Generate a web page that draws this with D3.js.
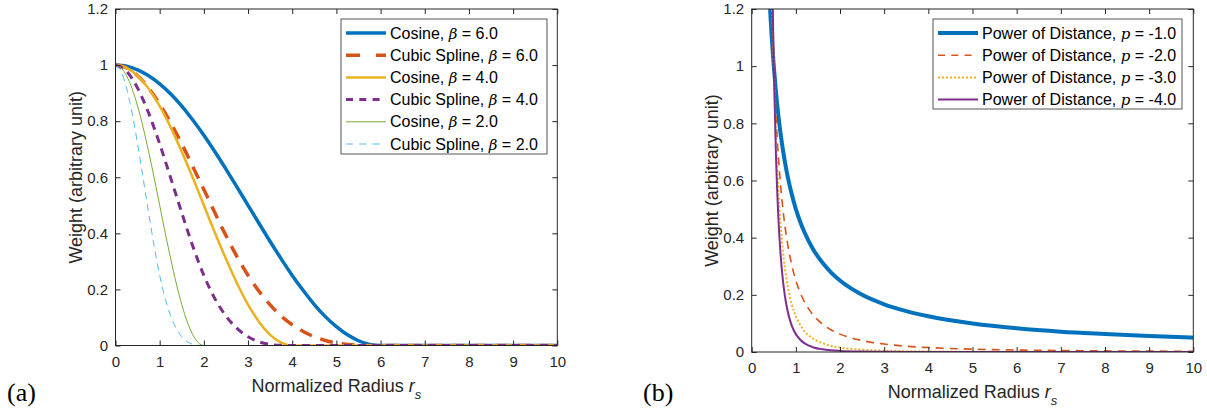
<!DOCTYPE html>
<html><head><meta charset="utf-8">
<script src="https://cdn.jsdelivr.net/npm/d3@7"></script>
<style>
body{margin:0;background:#fff;}
svg{display:block;font-family:"Liberation Sans",Arial,sans-serif;}
</style></head>
<body><svg id="chart" width="1207" height="414"></svg>
<script>
// ---------- DATA ----------
const xTicks = [0,1,2,3,4,5,6,7,8,9,10];
const yTicks = [0,0.2,0.4,0.6,0.8,1,1.2];
const yTickLabels = ["0","0.2","0.4","0.6","0.8","1","1.2"];

// Panel (a)
const rBeta6 = [0,0.25,0.5,0.75,1,1.25,1.5,1.75,2,2.25,2.5,2.75,3,3.25,3.5,3.75,4,4.25,4.5,4.75,5,5.25,5.5,5.75,6,10];
const cosine6 = [1,0.996,0.983,0.962,0.933,0.897,0.854,0.804,0.75,0.691,0.629,0.565,0.5,0.435,0.371,0.309,0.25,0.196,0.146,0.103,0.067,0.038,0.017,0.004,0,0];
const spline6 = [1,0.990,0.962,0.918,0.861,0.794,0.719,0.638,0.556,0.473,0.392,0.317,0.25,0.193,0.145,0.105,0.074,0.050,0.031,0.018,0.009,0.004,0.001,0.0001,0,0];
const rBeta4 = [0,0.25,0.5,0.75,1,1.25,1.5,1.75,2,2.25,2.5,2.75,3,3.25,3.5,3.75,4,10];
const cosine4 = [1,0.990,0.962,0.916,0.854,0.778,0.691,0.598,0.5,0.402,0.309,0.222,0.146,0.084,0.038,0.010,0,0];
const spline4 = [1,0.978,0.918,0.829,0.719,0.597,0.473,0.354,0.25,0.167,0.105,0.061,0.031,0.013,0.004,0.0005,0,0];
const rBeta2 = [0,0.125,0.25,0.375,0.5,0.625,0.75,0.875,1,1.125,1.25,1.375,1.5,1.625,1.75,1.875,2,10];
const cosine2 = [1,0.990,0.962,0.916,0.854,0.778,0.691,0.598,0.5,0.402,0.309,0.222,0.146,0.084,0.038,0.010,0,0];
const spline2 = [1,0.978,0.918,0.829,0.719,0.597,0.473,0.354,0.25,0.167,0.105,0.061,0.031,0.013,0.004,0.0005,0,0];
const seriesANames = ["Cosine, |β| = 6.0","Cubic Spline, |β| = 6.0","Cosine, |β| = 4.0","Cubic Spline, |β| = 4.0","Cosine, |β| = 2.0","Cubic Spline, |β| = 2.0"];

// Panel (b)
const rPow = [0.4,0.425,0.45,0.475,0.5,0.55,0.6,0.65,0.7,0.75,0.8,0.9,1.0,1.1,1.2,1.4,1.6,1.8,2,2.5,3,3.5,4,5,6,7,8,9,10];
const powM1 = [1.25,1.176,1.111,1.053,1,0.909,0.833,0.769,0.714,0.667,0.625,0.556,0.5,0.455,0.417,0.357,0.313,0.278,0.25,0.2,0.167,0.143,0.125,0.1,0.083,0.071,0.063,0.056,0.05];
const powM2 = [1.5625,1.384,1.235,1.108,1,0.826,0.694,0.592,0.510,0.444,0.391,0.309,0.25,0.207,0.174,0.128,0.098,0.077,0.0625,0.04,0.028,0.020,0.0156,0.01,0.0069,0.0051,0.0039,0.0031,0.0025];
const powM3 = [1.953,1.628,1.372,1.166,1,0.751,0.579,0.455,0.364,0.296,0.244,0.171,0.125,0.094,0.072,0.046,0.031,0.021,0.0156,0.008,0.0046,0.0029,0.002,0.001,0.0006,0.0004,0.0002,0.0002,0.0001];
const powM4 = [2.441,1.916,1.524,1.228,1,0.683,0.482,0.350,0.260,0.198,0.153,0.095,0.0625,0.043,0.030,0.016,0.0095,0.006,0.0039,0.0016,0.0008,0.0004,0.0002,0.0001,0,0,0,0,0];
const seriesBNames = ["Power of Distance, |p| = -1.0","Power of Distance, |p| = -2.0","Power of Distance, |p| = -3.0","Power of Distance, |p| = -4.0"];

// ---------- STYLES ----------
const stylesA = [
  {color:"#0072BD", w:3.5, dash:null},
  {color:"#D95319", w:3.5, dash:"13,9", legDash:"14,16"},
  {color:"#EDB120", w:2.5, dash:null},
  {color:"#7E2F8E", w:3, dash:"8,6", legDash:"7,6.3"},
  {color:"#77AC30", w:1, dash:null},
  {color:"#4DBEEE", w:1, dash:"7,5", legDash:"7,6.3"}
];
const stylesB = [
  {color:"#0072BD", w:4, dash:null},
  {color:"#D95319", w:1.6, dash:"8,6", legDash:"7,6.3"},
  {color:"#EDB120", w:2, dash:"2,2", legDash:"2,2"},
  {color:"#7E2F8E", w:2, dash:null}
];

const svg = d3.select("#chart");
const axisColor = "#262626";

function panel(id, L, R, T, B, series, styles, names, legend, tag, tagX) {
  const x = d3.scaleLinear().domain([0,10]).range([L,R]);
  const y = d3.scaleLinear().domain([0,1.2]).range([B,T]);
  const g = svg.append("g");
  g.append("clipPath").attr("id","clip"+id).append("rect")
    .attr("x",L).attr("y",T).attr("width",R-L).attr("height",B-T);

  const line = d3.line().x(d=>x(d[0])).y(d=>y(d[1])).curve(d3.curveMonotoneX);
  const lg = g.append("g").attr("clip-path","url(#clip"+id+")");
  series.forEach((s,i)=>{
    const st = styles[i];
    lg.append("path").datum(s.r.map((r,k)=>[r,s.v[k]]))
      .attr("d",line).attr("fill","none")
      .attr("stroke",st.color).attr("stroke-width",st.w)
      .attr("stroke-dasharray",st.dash).attr("stroke-linejoin","round");
  });

  // axes (ticks inside, MATLAB-like box)
  const ax = (sel)=>{sel.select(".domain").remove(); sel.selectAll("line").attr("stroke",axisColor); sel.selectAll("text").attr("fill",axisColor).style("font-size","15px").style("font-family","'Liberation Sans',Arial,sans-serif");};
  g.append("g").attr("transform",`translate(0,${B})`)
    .call(d3.axisBottom(x).tickValues(xTicks).tickFormat(d3.format("d")).tickSize(-5).tickPadding(10.5)).call(ax);
  g.append("g").attr("transform",`translate(0,${T})`)
    .call(d3.axisTop(x).tickValues(xTicks).tickFormat("").tickSize(-5)).call(ax);
  g.append("g").attr("transform",`translate(${L},0)`)
    .call(d3.axisLeft(y).tickValues(yTicks).tickFormat((d,i)=>yTickLabels[i]).tickSize(-5).tickPadding(7.5)).call(ax);
  g.append("g").attr("transform",`translate(${R},0)`)
    .call(d3.axisRight(y).tickValues(yTicks).tickFormat("").tickSize(-5)).call(ax);
  g.append("rect").attr("x",L).attr("y",T).attr("width",R-L).attr("height",B-T)
    .attr("fill","none").attr("stroke",axisColor).attr("stroke-width",1);

  // axis labels
  const xl = g.append("text").attr("x",(L+R)/2).attr("y",B+46).attr("text-anchor","middle")
    .attr("fill",axisColor).style("font-size","18px");
  xl.append("tspan").text("Normalized Radius ");
  xl.append("tspan").text("r").style("font-style","italic");
  xl.append("tspan").text("s").style("font-style","italic").style("font-size","13px").attr("dy",7);
  g.append("text").attr("transform",`translate(${L-34},${(T+B)/2}) rotate(-90)`)
    .attr("text-anchor","middle").attr("fill",axisColor).style("font-size","18px")
    .text("Weight (arbitrary unit)");

  // panel tag
  svg.append("text").attr("x",tagX).attr("y",401).text(tag)
    .style("font-family","'Liberation Serif','Times New Roman',serif").style("font-size","26px").attr("fill","#000");

  // legend
  const lgG = g.append("g");
  lgG.append("rect").attr("x",legend.x).attr("y",legend.y).attr("width",legend.w).attr("height",legend.h)
    .attr("fill","#fff").attr("stroke","#555").attr("stroke-width",1);
  names.forEach((n,i)=>{
    const cy = legend.y + 14 + i*22.2;
    const st = styles[i];
    lgG.append("line").attr("x1",legend.x+5).attr("x2",legend.x+45).attr("y1",cy).attr("y2",cy)
      .attr("stroke",st.color).attr("stroke-width",st.w).attr("stroke-dasharray",st.legDash||st.dash);
    const t = lgG.append("text").attr("x",legend.x+49).attr("y",cy).attr("dy","0.35em")
      .attr("fill","#000").style("font-size","16px");
    const parts = n.split("|");
    t.append("tspan").text(parts[0]);
    t.append("tspan").text(parts[1]).style("font-style","italic").style("font-family","'DejaVu Serif','Liberation Serif',serif").style("font-size","15px");
    t.append("tspan").text(parts[2]);
  });
}

panel("A",115.5,557.3,9,345.5,
  [{r:rBeta6,v:cosine6},{r:rBeta6,v:spline6},{r:rBeta4,v:cosine4},{r:rBeta4,v:spline4},{r:rBeta2,v:cosine2},{r:rBeta2,v:spline2}],
  stylesA, seriesANames, {x:341,y:19,w:206,h:135}, "(a)", 7);

panel("B",751.7,1193.3,9,352,
  [{r:rPow,v:powM1},{r:rPow,v:powM2},{r:rPow,v:powM3},{r:rPow,v:powM4}],
  stylesB, seriesBNames, {x:933,y:19,w:249,h:90}, "(b)", 643);
</script></body></html>
